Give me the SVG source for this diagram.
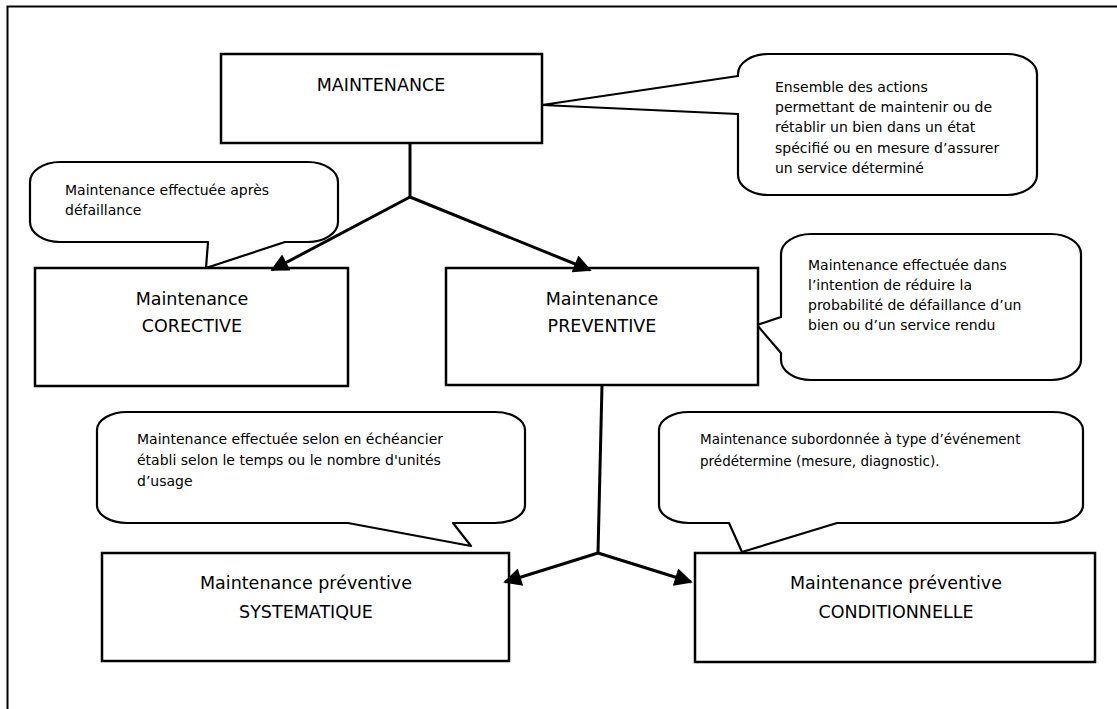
<svg xmlns="http://www.w3.org/2000/svg" width="1117" height="709" viewBox="0 0 1117 709">
<defs>
<style>
.box{fill:#fff;stroke:#000;stroke-width:2.5}
.call{fill:#fff;stroke:#000;stroke-width:2.2;stroke-linejoin:round}
.lbl{font-family:"DejaVu Sans",sans-serif;font-size:17.5px;fill:#000;text-anchor:middle}
.ct{font-family:"DejaVu Sans",sans-serif;font-size:14px;fill:#000}
.ct2{font-family:"DejaVu Sans",sans-serif;font-size:13.5px;fill:#000}
.conn{fill:none;stroke:#000;stroke-width:3}
.frame{fill:none;stroke:#000;stroke-width:2}
</style>
<marker id="arr" viewBox="0 0 10 10" refX="9" refY="5" markerWidth="20" markerHeight="18" markerUnits="userSpaceOnUse" orient="auto">
<path d="M0,0 L10,5 L0,10 Z" fill="#000"/>
</marker>
</defs>
<rect width="1117" height="709" fill="#fff"/>
<path class="frame" d="M7.5,709 V6.5 H1117"/>

<g id="callout-maintenance">
<path class="call" d="M768,54 H1007 A30 20 0 0 1 1037 74 V175 A30 20 0 0 1 1007 195 H768 A30 20 0 0 1 738 175 V114 L542 105 L738 76 V74 A30 20 0 0 1 768 54 Z"/>
<text class="ct" x="775" y="92">Ensemble des actions</text>
<text class="ct" x="775" y="112">permettant de maintenir ou de</text>
<text class="ct" x="775" y="132">rétablir un bien dans un état</text>
<text class="ct" x="775" y="153">spécifié ou en mesure d’assurer</text>
<text class="ct" x="775" y="173">un service déterminé</text>
</g>

<g id="callout-corective">
<path class="call" d="M60,162 H308 A30 20 0 0 1 338 182 V222 A30 20 0 0 1 308 242 H285 L206 268 L208 242 H60 A30 20 0 0 1 30 222 V182 A30 20 0 0 1 60 162 Z"/>
<text class="ct" x="65" y="195">Maintenance effectuée après</text>
<text class="ct" x="65" y="215">défaillance</text>
</g>

<g id="callout-preventive">
<path class="call" d="M811,234 H1051 A30 20 0 0 1 1081 254 V360 A30 20 0 0 1 1051 380 H811 A30 20 0 0 1 781 360 V353 L757 325 L781 317 V254 A30 20 0 0 1 811 234 Z"/>
<text class="ct" x="808" y="270">Maintenance effectuée dans</text>
<text class="ct" x="808" y="290">l’intention de réduire la</text>
<text class="ct" x="808" y="310">probabilité de défaillance d’un</text>
<text class="ct" x="808" y="330">bien ou d’un service rendu</text>
</g>

<g id="callout-systematique">
<path class="call" d="M127,412 H495 A30 18 0 0 1 525 430 V505 A30 18 0 0 1 495 523 H453 L471 546 L348 523 H127 A30 18 0 0 1 97 505 V430 A30 18 0 0 1 127 412 Z"/>
<text class="ct" x="137" y="444">Maintenance effectuée selon en échéancier</text>
<text class="ct" x="137" y="465">établi selon le temps ou le nombre d'unités</text>
<text class="ct" x="137" y="486">d’usage</text>
</g>

<g id="callout-conditionnelle">
<path class="call" d="M689,412 H1053 A30 18 0 0 1 1083 430 V505 A30 18 0 0 1 1053 523 H837 L742 552 L729 523 H689 A30 18 0 0 1 659 505 V430 A30 18 0 0 1 689 412 Z"/>
<text class="ct2" x="700" y="444">Maintenance subordonnée à type d’événement</text>
<text class="ct2" x="700" y="466">prédétermine (mesure, diagnostic).</text>
</g>

<g id="node-maintenance">
<rect class="box" x="221" y="54" width="321" height="89"/>
<text class="lbl" x="381" y="91">MAINTENANCE</text>
</g>

<g id="node-corective">
<rect class="box" x="35" y="268" width="313" height="118"/>
<text class="lbl" x="192" y="305">Maintenance</text>
<text class="lbl" x="192" y="332">CORECTIVE</text>
</g>

<g id="node-preventive">
<rect class="box" x="446" y="268" width="312" height="117"/>
<text class="lbl" x="602" y="305">Maintenance</text>
<text class="lbl" x="602" y="332">PREVENTIVE</text>
</g>

<g id="node-systematique">
<rect class="box" x="102" y="553" width="407" height="108"/>
<text class="lbl" x="306" y="589">Maintenance préventive</text>
<text class="lbl" x="306" y="618">SYSTEMATIQUE</text>
</g>

<g id="node-conditionnelle">
<rect class="box" x="695" y="553" width="400" height="109"/>
<text class="lbl" x="896" y="589">Maintenance préventive</text>
<text class="lbl" x="896" y="618">CONDITIONNELLE</text>
</g>

<g id="connectors">
<path class="conn" d="M410,143 V197"/>
<path class="conn" d="M410,197 L272,270" marker-end="url(#arr)"/>
<path class="conn" d="M410,197 L590,270" marker-end="url(#arr)"/>
<path class="conn" d="M602,385 L598,553"/>
<path class="conn" d="M598,553 L505,582" marker-end="url(#arr)"/>
<path class="conn" d="M598,553 L691,582" marker-end="url(#arr)"/>
</g>
</svg>
